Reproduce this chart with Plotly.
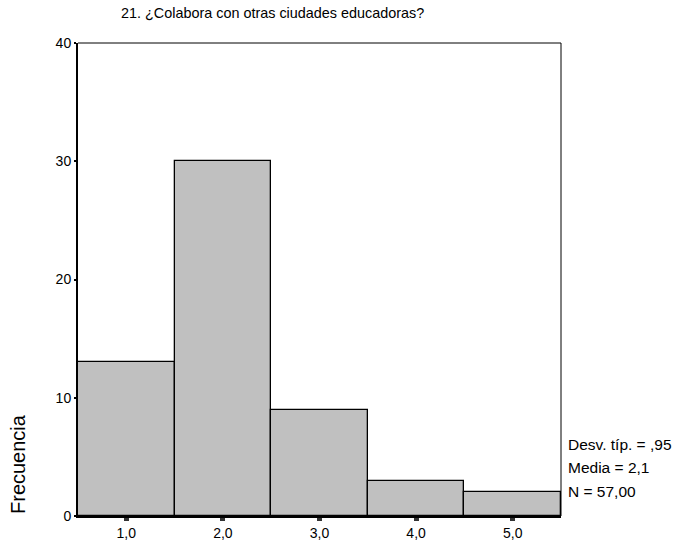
import plotly.graph_objects as go

categories = [1.0, 2.0, 3.0, 4.0, 5.0]
frequencies = [13, 30, 9, 3, 2]
x_tick_labels = ["1,0", "2,0", "3,0", "4,0", "5,0"]
y_tick_vals = [0, 10, 20, 30, 40]
title_text = "21. ¿Colabora con otras ciudades educadoras?"
stats_lines = ["Desv. típ. = ,95", "Media = 2,1", "N = 57,00"]

fig = go.Figure()
fig.add_trace(go.Bar(
    x=categories, y=frequencies, width=1,
    marker=dict(color="#c0c0c0", line=dict(color="black", width=1.3)),
    showlegend=False, hoverinfo="x+y",
))

font = "Liberation Sans, Arial, sans-serif"
PW, PH = 483, 473
fig.update_layout(
    width=679, height=544,
    margin=dict(l=78, r=118, t=43, b=28, autoexpand=False),
    paper_bgcolor="white", plot_bgcolor="white",
    font=dict(family=font, size=14, color="black"),
    bargap=0,
    xaxis=dict(range=[0.5, 5.5], tickvals=categories, ticktext=x_tick_labels,
               showgrid=False, zeroline=False, showline=True, linewidth=2,
               linecolor="black", ticks="outside", ticklen=3, tickwidth=5,
               tickcolor="#333", tickfont=dict(size=14), fixedrange=True,
               automargin=False),
    yaxis=dict(range=[0, 40], tickvals=y_tick_vals, showgrid=False,
               zeroline=False, showline=True, linewidth=2, linecolor="black",
               ticks="outside", ticklen=2, tickwidth=2, tickcolor="black",
               tickfont=dict(size=14), fixedrange=True, automargin=False),
)
# top and right thin frame
fig.add_shape(type="line", xref="paper", yref="paper", x0=0, x1=1, y0=1, y1=1,
              line=dict(color="black", width=1))
fig.add_shape(type="line", xref="paper", yref="paper", x0=1, x1=1, y0=0, y1=1,
              line=dict(color="black", width=1))

fig.add_annotation(text=title_text, xref="paper", yref="paper",
                   x=(119 - 78) / PW, y=1 + 30 / PH, xanchor="left",
                   yanchor="middle", showarrow=False, font=dict(size=14.4))
fig.add_annotation(text="Frecuencia", xref="paper", yref="paper",
                   x=-60 / PW, y=(516 - 464) / PH, textangle=-90,
                   xanchor="center", yanchor="middle", showarrow=False,
                   font=dict(size=20))
for i, line in enumerate(stats_lines):
    fig.add_annotation(text=line, xref="paper", yref="paper",
                       x=1 + 5 / PW, y=(516 - (444 + 23.5 * i)) / PH,
                       xanchor="left", yanchor="middle", showarrow=False,
                       font=dict(size=15.5))

fig.write_html("out.html",
               config={"displayModeBar": False},
               post_script="document.body.style.margin='0';")
